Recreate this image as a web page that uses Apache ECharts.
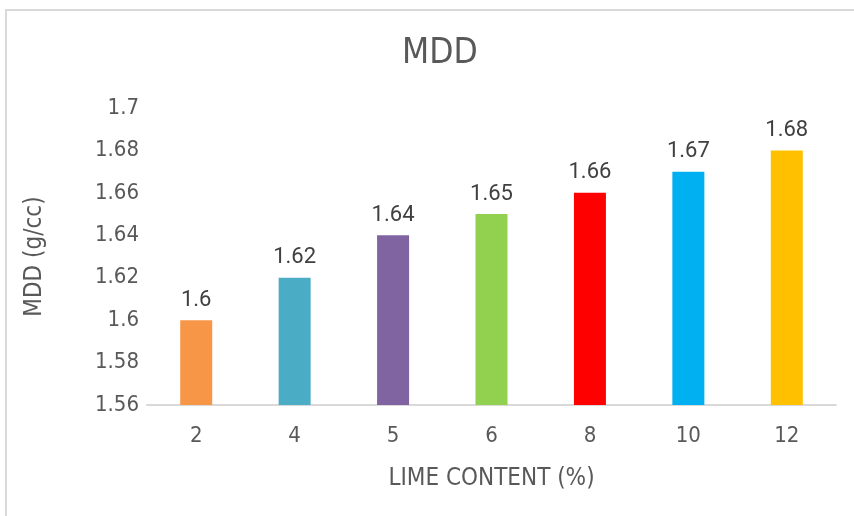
<!DOCTYPE html>
<html>
<head>
<meta charset="utf-8">
<script src="https://cdn.jsdelivr.net/npm/echarts@6/dist/echarts.min.js"></script>
<style>
    html, body { margin: 0; padding: 0; background: #fff; }
    #frame {
        position: absolute; left: 5px; top: 9px; width: 900px; height: 560px;
        border: 2px solid #d9d9d9; border-width: 2px 0 0 2px; box-sizing: border-box;
    }
    #chart { position: absolute; left: 0; top: 0; width: 854px; height: 516px; }
</style>
</head>
<body>
<div id="frame"></div>
<div id="chart"></div>
<script>
    const limeContent = ['2', '4', '5', '6', '8', '10', '12'];
    const mddValues = [1.6, 1.62, 1.64, 1.65, 1.66, 1.67, 1.68];
    const barColors = ['#F79646', '#4BACC6', '#8064A2', '#92D050', '#FF0000', '#00B0F0', '#FFC000'];

    const narrow = '"Liberation Sans Narrow", "DejaVu Sans Condensed", Roboto, sans-serif';
    const textColor = '#595959';

    const chart = echarts.init(document.getElementById('chart'));
    chart.setOption({
        animation: false,
        title: {
            text: 'MDD',
            left: 397,
            top: 31,
            textStyle: { fontFamily: narrow, fontSize: 35, fontWeight: 'normal', color: textColor }
        },
        grid: { left: 147, right: 18, top: 108, bottom: 111 },
        xAxis: {
            type: 'category',
            data: limeContent,
            name: 'LIME CONTENT (%)',
            nameLocation: 'middle',
            nameGap: 62,
            nameTextStyle: { fontFamily: narrow, fontSize: 24, color: textColor },
            axisLine: { lineStyle: { color: '#d9d9d9', width: 2 } },
            axisTick: { show: false },
            axisLabel: { fontFamily: narrow, fontSize: 22, color: textColor, margin: 20 }
        },
        yAxis: {
            type: 'value',
            min: 1.56,
            max: 1.7,
            interval: 0.02,
            name: 'MDD (g/cc)',
            nameLocation: 'middle',
            nameGap: 100,
            nameTextStyle: { fontFamily: narrow, fontSize: 24, color: textColor },
            splitLine: { show: false },
            axisLine: { show: false },
            axisTick: { show: false },
            axisLabel: {
                fontFamily: narrow, fontSize: 22, color: textColor, margin: 8,
                formatter: v => String(+v.toFixed(2))
            }
        },
        series: [{
            type: 'bar',
            barWidth: 32,
            data: mddValues.map((v, i) => ({ value: v, itemStyle: { color: barColors[i] } })),
            label: {
                show: true,
                position: 'top',
                distance: 9,
                fontFamily: 'Roboto, "Noto Sans", sans-serif',
                fontSize: 22,
                color: '#404040',
                formatter: p => String(p.value)
            }
        }]
    });
</script>
</body>
</html>
